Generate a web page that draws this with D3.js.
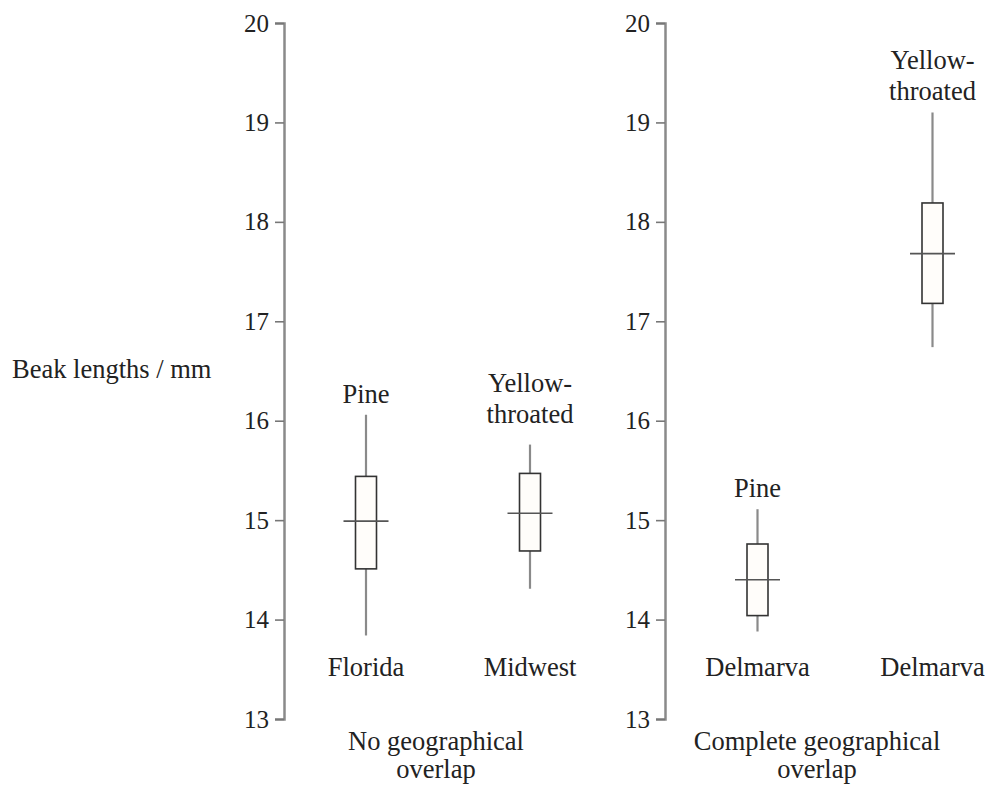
<!DOCTYPE html>
<html>
<head>
<meta charset="utf-8">
<script src="https://cdn.jsdelivr.net/npm/d3@7"></script>
<style>
  html, body { margin: 0; padding: 0; background: #fff; }
  svg text { font-family: "Liberation Serif", "Times New Roman", serif; fill: #222; }
</style>
</head>
<body>
<script>
// beak lengths chart data
const species = ['Pine', 'Yellow-throated', 'Pine', 'Yellow-throated'];
const locations = ['Florida', 'Midwest', 'Delmarva', 'Delmarva'];
const panelOf = [0, 0, 1, 1];
const panelTitles = [['No geographical', 'overlap'], ['Complete geographical', 'overlap']];
const whiskerLow = [13.84, 14.31, 13.88, 16.74];
const q1 = [14.51, 14.69, 14.04, 17.18];
const median = [14.99, 15.07, 14.40, 17.68];
const q3 = [15.44, 15.47, 14.76, 18.19];
const whiskerHigh = [16.06, 15.76, 15.11, 19.10];
const yTicks = [13, 14, 15, 16, 17, 18, 19, 20];
const yTitle = 'Beak lengths / mm';

const width = 989, height = 790;
const tickFont = 25, labelFont = 26.5;

const svg = d3.select('body').append('svg')
    .attr('width', width)
    .attr('height', height);

const y = d3.scaleLinear().domain([13, 20]).range([719, 23]);

// one x scale per panel
const panelAxisX = [284, 665];
const xScales = [
    d3.scalePoint().domain([0, 1]).range([284, 612]).padding(0.5),
    d3.scalePoint().domain([2, 3]).range([670, 1020]).padding(0.5)
];
const xOf = i => xScales[panelOf[i]](i);

// axes
panelAxisX.forEach(ax => {
    const g = svg.append('g')
        .attr('transform', `translate(${ax},0)`)
        .call(d3.axisLeft(y).tickValues(yTicks).tickFormat(d3.format('d')).tickSize(9).tickPadding(6));
    g.select('.domain').attr('stroke', '#8a8a8a').attr('stroke-width', 2.5);
    g.selectAll('.tick line').attr('stroke', '#777').attr('stroke-width', 1.6);
    g.selectAll('.tick text')
        .attr('font-size', tickFont)
        .attr('fill', '#222');
});

// y title
svg.append('text')
    .attr('x', 12)
    .attr('y', y(16.5) + 7)
    .attr('font-size', labelFont)
    .text(yTitle);

const idx = d3.range(species.length);
const boxW = 21, medW = 45;

// whiskers
svg.selectAll('.whisker').data(idx).enter().append('line')
    .attr('class', 'whisker')
    .attr('x1', i => xOf(i)).attr('x2', i => xOf(i))
    .attr('y1', i => y(whiskerLow[i]))
    .attr('y2', i => y(whiskerHigh[i]))
    .attr('stroke', '#8a8a8a')
    .attr('stroke-width', 2.2);

// boxes
svg.selectAll('.box').data(idx).enter().append('rect')
    .attr('class', 'box')
    .attr('x', i => xOf(i) - boxW / 2)
    .attr('y', i => y(q3[i]))
    .attr('width', boxW)
    .attr('height', i => y(q1[i]) - y(q3[i]))
    .attr('fill', '#fffdfa')
    .attr('stroke', '#333')
    .attr('stroke-width', 1.6);

// median ticks
svg.selectAll('.median').data(idx).enter().append('line')
    .attr('class', 'median')
    .attr('x1', i => xOf(i) - medW / 2)
    .attr('x2', i => xOf(i) + medW / 2)
    .attr('y1', i => y(median[i])).attr('y2', i => y(median[i]))
    .attr('stroke', '#555')
    .attr('stroke-width', 1.6);

// species labels above the whiskers
const labelGap = i => (i === 1 ? 22 : 12);
idx.forEach(i => {
    const lines = species[i] === 'Yellow-throated' ? ['Yellow-', 'throated'] : [species[i]];
    const base = y(whiskerHigh[i]) - labelGap(i);
    lines.forEach((ln, k) => {
        svg.append('text')
            .attr('x', xOf(i))
            .attr('y', base - (lines.length - 1 - k) * 31)
            .attr('text-anchor', 'middle')
            .attr('font-size', labelFont)
            .text(ln);
    });
});

// location labels
svg.selectAll('.loc').data(idx).enter().append('text')
    .attr('class', 'loc')
    .attr('x', i => xOf(i))
    .attr('y', y(13.5) + 7)
    .attr('text-anchor', 'middle')
    .attr('font-size', labelFont)
    .text(i => locations[i]);

// panel titles
panelTitles.forEach((lines, p) => {
    lines.forEach((ln, k) => {
        svg.append('text')
            .attr('x', panelAxisX[p] + 152)
            .attr('y', y(13) + 31 + k * 28)
            .attr('text-anchor', 'middle')
            .attr('font-size', labelFont)
            .text(ln);
    });
});
</script>
</body>
</html>
